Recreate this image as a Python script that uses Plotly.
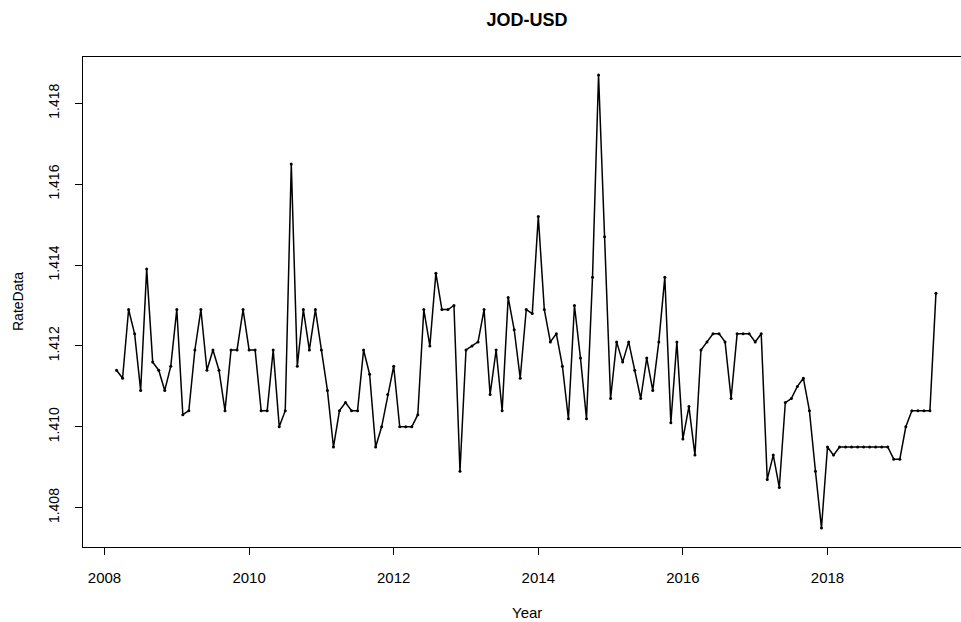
import plotly.graph_objects as go

# Monthly JOD-USD rate, March 2008 through July 2019
start_year = 2008
start_month = 3

rates_2008 = [1.4114, 1.4112, 1.4129, 1.4123, 1.4109, 1.4139, 1.4116, 1.4114, 1.4109, 1.4115]
rates_2009 = [1.4129, 1.4103, 1.4104, 1.4119, 1.4129, 1.4114, 1.4119, 1.4114, 1.4104, 1.4119, 1.4119, 1.4129]
rates_2010 = [1.4119, 1.4119, 1.4104, 1.4104, 1.4119, 1.4100, 1.4104, 1.4165, 1.4115, 1.4129, 1.4119, 1.4129]
rates_2011 = [1.4119, 1.4109, 1.4095, 1.4104, 1.4106, 1.4104, 1.4104, 1.4119, 1.4113, 1.4095, 1.4100, 1.4108]
rates_2012 = [1.4115, 1.4100, 1.4100, 1.4100, 1.4103, 1.4129, 1.4120, 1.4138, 1.4129, 1.4129, 1.4130, 1.4089]
rates_2013 = [1.4119, 1.4120, 1.4121, 1.4129, 1.4108, 1.4119, 1.4104, 1.4132, 1.4124, 1.4112, 1.4129, 1.4128]
rates_2014 = [1.4152, 1.4129, 1.4121, 1.4123, 1.4115, 1.4102, 1.4130, 1.4117, 1.4102, 1.4137, 1.4187, 1.4147]
rates_2015 = [1.4107, 1.4121, 1.4116, 1.4121, 1.4114, 1.4107, 1.4117, 1.4109, 1.4121, 1.4137, 1.4101, 1.4121]
rates_2016 = [1.4097, 1.4105, 1.4093, 1.4119, 1.4121, 1.4123, 1.4123, 1.4121, 1.4107, 1.4123, 1.4123, 1.4123]
rates_2017 = [1.4121, 1.4123, 1.4087, 1.4093, 1.4085, 1.4106, 1.4107, 1.4110, 1.4112, 1.4104, 1.4089, 1.4075]
rates_2018 = [1.4095, 1.4093, 1.4095, 1.4095, 1.4095, 1.4095, 1.4095, 1.4095, 1.4095, 1.4095, 1.4095, 1.4092]
rates_2019 = [1.4092, 1.4100, 1.4104, 1.4104, 1.4104, 1.4104, 1.4133]

x_ticks = [2008, 2010, 2012, 2014, 2016, 2018]
y_ticks = [1.408, 1.410, 1.412, 1.414, 1.416, 1.418]

rates = (rates_2008 + rates_2009 + rates_2010 + rates_2011 + rates_2012 + rates_2013
         + rates_2014 + rates_2015 + rates_2016 + rates_2017 + rates_2018 + rates_2019)

# decimal-year time index, one point per month
years = [start_year + (start_month - 1 + i) / 12 for i in range(len(rates))]

fig = go.Figure()
fig.add_trace(go.Scatter(
    x=years, y=rates, mode="lines+markers",
    line=dict(color="black", width=1.5),
    marker=dict(color="black", size=3),
    hoverinfo="x+y",
))

W, H = 961, 622
L, R, T, B = 83, 0, 57, 75
plot_h = H - T - B
plot_w = W - L - R
# the plot region runs past the right edge of the page; its centre sits at x=527
centre = (527 - L) / plot_w

fig.update_layout(
    width=W, height=H,
    margin=dict(l=L, r=R, t=T, b=B),
    paper_bgcolor="white", plot_bgcolor="white",
    showlegend=False,
    font=dict(family="Liberation Sans, Arial, sans-serif", color="black"),
    title=dict(text="<b>JOD-USD</b>", x=527 / W, xanchor="center",
               y=1 - 20 / H, yanchor="middle",
               font=dict(size=18, color="black")),
)

fig.update_xaxes(
    range=[2007.7026, 2019.8465],
    tickvals=x_ticks, ticktext=[str(v) for v in x_ticks],
    ticks="outside", ticklen=7, tickcolor="black", tickwidth=1,
    tickfont=dict(size=15, color="black"),
    ticklabelstandoff=10,
    showline=True, linecolor="black", linewidth=1, mirror=True,
    showgrid=False, zeroline=False,
)
fig.update_yaxes(
    range=[1.407028, 1.419145],
    tickvals=y_ticks, ticktext=[f"{v:.3f}" for v in y_ticks],
    tickangle=-90,
    ticks="outside", ticklen=7, tickcolor="black", tickwidth=1,
    tickfont=dict(size=14, color="black"),
    ticklabelstandoff=10,
    showline=True, linecolor="black", linewidth=1, mirror=False,
    showgrid=False, zeroline=False,
)

fig.add_annotation(text="Year", xref="paper", yref="paper",
                   x=centre, y=-(612 - (H - B)) / plot_h,
                   xanchor="center", yanchor="middle", showarrow=False,
                   font=dict(size=15, color="black"))
fig.add_annotation(text="RateData", xref="paper", yref="paper",
                   x=-(L - 18) / plot_w, y=0.5, textangle=-90,
                   xanchor="center", yanchor="middle", showarrow=False,
                   font=dict(size=14, color="black"))

fig.write_html("out.html")
